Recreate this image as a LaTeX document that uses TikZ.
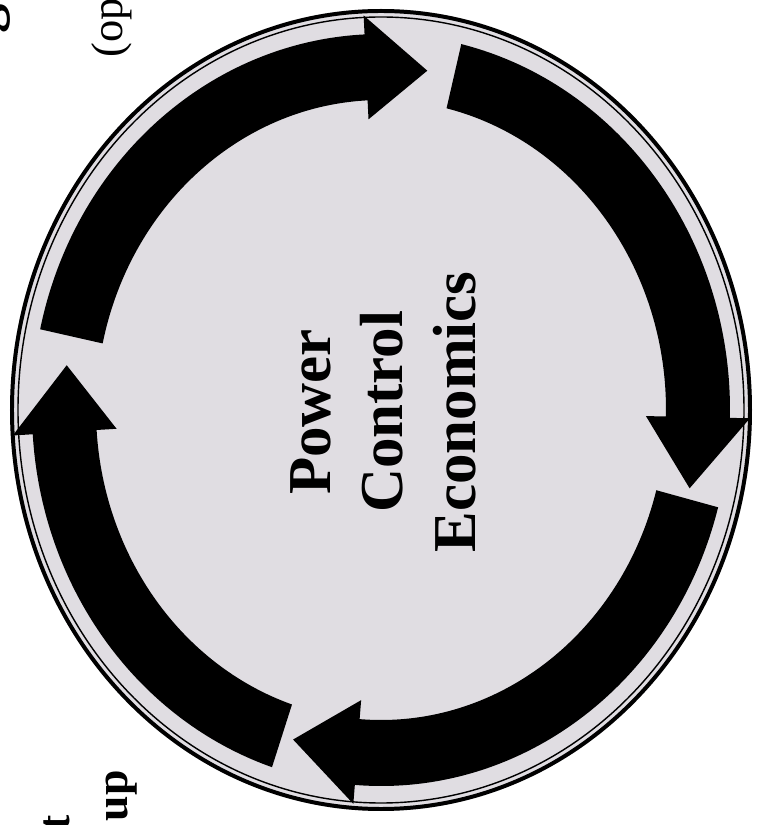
\documentclass[tikz,border=0pt]{standalone}
\usepackage{fontspec}
\setmainfont{Liberation Serif}
\definecolor{fondgris}{RGB}{224,221,226}
\tikzset{
  fleche/.style={fill=black},
  titre/.style={font=\bfseries\fontsize{52}{62}\selectfont, rotate=90, align=center, inner sep=0pt},
  marge/.style={rotate=90, inner sep=0pt},
}

\begin{document}
\begin{tikzpicture}[x=0.03cm, y=0.03cm]
  % cadre de la page (759 x 825 px), origine au centre du disque
  \useasboundingbox (-381,-415) rectangle (378,410);
  \clip (-381,-415) rectangle (378,410);
  \fill[white] (-381,-415) rectangle (378,410);

  % textes coupés au bord de la page
  \node[marge, anchor=base west, font=\bfseries\fontsize{50}{60}\selectfont] (motg) at (-383,376) {g};
  \node[marge, anchor=base west, font=\fontsize{38}{46}\selectfont] (option) at (-258,352) {(op};
  \node[marge, anchor=base east, font=\bfseries\fontsize{39}{47}\selectfont] (groupe) at (-253,-360) {up};
  \node[marge, anchor=base east, font=\bfseries\fontsize{39}{47}\selectfont] (motif) at (-311,-405) {t};

  % disque gris et double contour
  \fill[fondgris] (0,0) ellipse [x radius=371, y radius=401];
  \draw[line width=3.4pt] (0,0) ellipse [x radius=369, y radius=399];
  \draw[line width=1.2pt] (0,0) ellipse [x radius=363, y radius=393];

  % quatre flèches courbes, sens horaire (queue / base de la pointe / pointe)
  \foreach \queue/\base/\pointe in {167.6/92.7/81.6, 76.7/-1.2/-13.2, -15/-94.3/-106.1, 251.8/183.7/172.5}
    \fill[fleche] (\queue:349 and 376)
      arc[start angle=\queue, end angle=\base, x radius=349, y radius=376]
      -- (\base:369 and 395) -- (\pointe:317 and 343) -- (\base:265 and 291)
      -- (\base:285 and 310)
      arc[start angle=\base, end angle=\queue, x radius=285, y radius=310] -- cycle;

  % texte central
  \node[titre] (centre) at (2,-2) {Power\\Control\\Economics};
\end{tikzpicture}
\end{document}
